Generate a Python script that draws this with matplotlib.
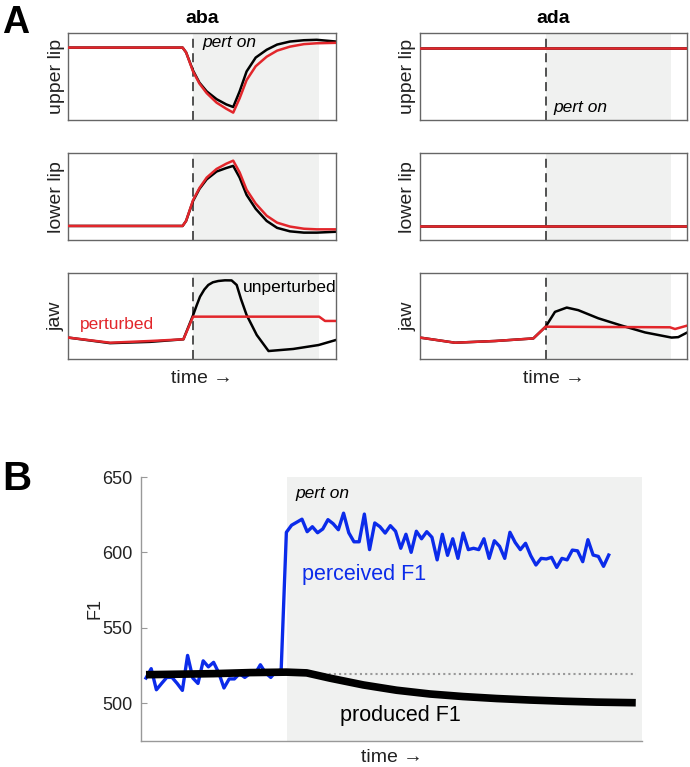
import numpy as np
import matplotlib
matplotlib.use('Agg')
import matplotlib.pyplot as plt

plt.rcParams['font.family'] = ['Liberation Sans', 'DejaVu Sans']

RED = '#e2262b'
BLUE = '#0b2bea'
SHADE = '#f0f1f0'
SPINE = '#666666'

# ---- panel A data (normalised time / position) ----
pert_on_aba = 0.466
pert_off_aba = 0.937
pert_on_ada = 0.47
pert_off_ada = 0.938

lip_t = [0, .427, .44, .466, .49, .517, .554, .59, .616, .64, .666, .70, .741, .78, .828, .88, .928, 1.0]
aba_upper_red = [.835, .835, .78, .56, .42, .31, .2, .13, .085, .25, .46, .62, .73, .80, .846, .875, .885, .89]
aba_upper_black = [.835, .835, .78, .57, .43, .33, .24, .18, .15, .33, .56, .72, .81, .87, .905, .92, .925, .905]
aba_lower_red = [.162, .162, .22, .46, .6, .72, .82, .88, .915, .78, .58, .42, .28, .2, .155, .13, .123, .123]
aba_lower_black = [.162, .162, .22, .45, .59, .70, .79, .83, .855, .72, .52, .36, .22, .14, .10, .085, .085, .095]

aba_jaw_red_t = [0, .156, .305, .43, .466, .937, .959, 1.0]
aba_jaw_red = [.25, .19, .21, .23, .494, .494, .444, .444]
aba_jaw_black_t = [0, .156, .305, .43, .466, .48, .492, .508, .523, .54, .56, .585, .61,
                   .629, .645, .666, .704, .748, .84, .935, 1.0]
aba_jaw_black = [.25, .185, .2, .23, .51, .63, .727, .81, .864, .895, .91, .918, .917,
                 .864, .70, .514, .28, .093, .117, .163, .222]

ada_flat_t = [0, 1.0]
ada_upper = [.835, .835]
ada_lower = [.162, .162]
ada_jaw_red_t = [0, .131, .281, .424, .47, .935, .954, 1.0]
ada_jaw_red = [.25, .19, .21, .24, .377, .37, .35, .39]
ada_jaw_black_t = [0, .131, .281, .424, .47, .505, .549, .592, .667, .754, .842, .941, .966, 1.0]
ada_jaw_black = [.25, .19, .21, .24, .377, .55, .60, .57, .475, .39, .31, .25, .255, .31]

# ---- panel B data ----
f1_pre = [516.6, 522.8, 508.8, 513, 517, 517, 513, 508.4, 531.6, 516.6, 513, 528, 524, 527,
          520, 510, 516, 516, 519.5, 517, 519.5, 519.5, 525.4, 520, 517, 521, 522]
f1_post = [613.3, 618, 620, 622, 613.7, 617, 613, 615.5, 621.7, 619, 615, 626, 613, 607, 607,
           625.4, 601.8, 619.5, 617, 612.8, 617.7, 614, 602.7, 612, 600, 614, 609, 613.7, 610,
           595, 612, 598, 609, 596, 612.8, 601.8, 602.7, 601.8, 609, 596, 607.7, 604, 596,
           613.3, 606.6, 601.8, 606, 597.8, 591.6, 596, 595.6, 596.7, 590, 596, 595, 601.5,
           601, 593.8, 608.4, 598.2, 597.3, 590.7, 598.2]
prod_t = [0, 13, 20, 27, 30.9, 35.4, 41.8, 48.2, 54.6, 61.0, 67.4, 73.8, 80.3, 86.7, 94.2]
prod_f1 = [518.8, 519.5, 520.2, 520.5, 520, 516.5, 512, 508.5, 506, 504.3, 503, 502, 501.2, 500.6, 500.2]
baseline_f1 = 519.5
b_pert_on = 27.1
b_xlim = (-0.96, 95.4)
b_ylim = (475, 650)
b_yticks = [500, 550, 600, 650]

W, H = 690, 767
fig = plt.figure(figsize=(W / 100, H / 100), dpi=100)


def px_axes(x0, y0, x1, y1):
    return fig.add_axes([x0 / W, 1 - y1 / H, (x1 - x0) / W, (y1 - y0) / H])


def a_panel(ax, on, off, red_t, red, black_t, black, ylabel):
    ax.axvspan(on, off, color=SHADE, lw=0, zorder=0)
    ax.axvline(on, color='#444444', lw=1.3, ls=(0, (5, 3)), zorder=1)
    ax.plot(black_t, black, color='black', lw=1.8, zorder=2)
    ax.plot(red_t, red, color=RED, lw=1.8, zorder=3)
    ax.set_xlim(0, 1)
    ax.set_ylim(0, 1)
    ax.set_xticks([])
    ax.set_yticks([])
    for s in ax.spines.values():
        s.set_color(SPINE)
        s.set_linewidth(1.0)
    ax.text(-0.045, 0.5, ylabel, transform=ax.transAxes, rotation=90,
            ha='center', va='center', fontsize=14, color='#222222')


rows = [(33.3, 120), (153.3, 240), (273.3, 359)]
cols = [(68.3, 336), (420, 687.3)]

axs = [[px_axes(c[0], r[0], c[1], r[1]) for c in cols] for r in rows]

a_panel(axs[0][0], pert_on_aba, pert_off_aba, lip_t, aba_upper_red, lip_t, aba_upper_black, 'upper lip')
a_panel(axs[1][0], pert_on_aba, pert_off_aba, lip_t, aba_lower_red, lip_t, aba_lower_black, 'lower lip')
a_panel(axs[2][0], pert_on_aba, pert_off_aba, aba_jaw_red_t, aba_jaw_red, aba_jaw_black_t, aba_jaw_black, 'jaw')
a_panel(axs[0][1], pert_on_ada, pert_off_ada, ada_flat_t, ada_upper, ada_flat_t, ada_upper, 'upper lip')
a_panel(axs[1][1], pert_on_ada, pert_off_ada, ada_flat_t, ada_lower, ada_flat_t, ada_lower, 'lower lip')
a_panel(axs[2][1], pert_on_ada, pert_off_ada, ada_jaw_red_t, ada_jaw_red, ada_jaw_black_t, ada_jaw_black, 'jaw')

axs[0][0].text(0.5, 1.176, 'aba', transform=axs[0][0].transAxes, ha='center', va='center',
               fontsize=14, fontweight='bold')
axs[0][1].text(0.5, 1.176, 'ada', transform=axs[0][1].transAxes, ha='center', va='center',
               fontsize=14, fontweight='bold')
axs[0][0].text(0.5, 0.89, 'pert on', transform=axs[0][0].transAxes, ha='left', va='center',
               fontsize=12.5, style='italic')
axs[0][1].text(0.501, 0.14, 'pert on', transform=axs[0][1].transAxes, ha='left', va='center',
               fontsize=12.5, style='italic')
axs[2][0].text(0.652, 0.83, 'unperturbed', transform=axs[2][0].transAxes, ha='left', va='center',
               fontsize=12.5)
axs[2][0].text(0.044, 0.40, 'perturbed', transform=axs[2][0].transAxes, ha='left', va='center',
               fontsize=12.5, color=RED)
for c in range(2):
    axs[2][c].text(0.5, -0.222, 'time \u2192', transform=axs[2][c].transAxes, ha='center',
                   va='center', fontsize=14, color='#222222')

fig.text(2 / W, 1 - 33 / H, 'A', fontsize=27, fontweight='bold', va='baseline')
fig.text(2 / W, 1 - 490 / H, 'B', fontsize=29, fontweight='bold', va='baseline')

# ---- panel B ----
axb = px_axes(141, 477, 642, 740.7)
f1 = np.array(f1_pre + f1_post)
x = np.arange(len(f1))
axb.axvspan(b_pert_on, b_xlim[1], color=SHADE, lw=0, zorder=0)
axb.plot([b_pert_on, prod_t[-1]], [baseline_f1, baseline_f1], color='#999999', lw=1.5,
         ls=(0, (1, 1.5)), zorder=1)
axb.plot(x, f1, color=BLUE, lw=2.4, zorder=2)
axb.plot(prod_t, prod_f1, color='black', lw=5.5, solid_capstyle='butt', zorder=3)
axb.set_xlim(*b_xlim)
axb.set_ylim(*b_ylim)
axb.set_yticks(b_yticks)
axb.set_xticks([])
axb.tick_params(axis='y', direction='in', length=4, pad=6, labelsize=13, colors='#999999',
                labelcolor='#222222')
for s in ['top', 'right']:
    axb.spines[s].set_visible(False)
for s in ['left', 'bottom']:
    axb.spines[s].set_color('#999999')
    axb.spines[s].set_linewidth(1.0)
axb.text(28.8, 639, 'pert on', ha='left', va='center', fontsize=12.5, style='italic')
axb.text(30, 585.4, 'perceived F1', ha='left', va='center', fontsize=15.5, color=BLUE)
axb.text(37.3, 492, 'produced F1', ha='left', va='center', fontsize=15.5)
axb.text(0.5, -0.065, 'time \u2192', transform=axb.transAxes, ha='center', va='center',
         fontsize=14, color='#222222')
axb.text(-0.092, 0.5, 'F1', transform=axb.transAxes, rotation=90, ha='center', va='center',
         fontsize=13, color='#222222')

fig.savefig('out.png', dpi=100)
